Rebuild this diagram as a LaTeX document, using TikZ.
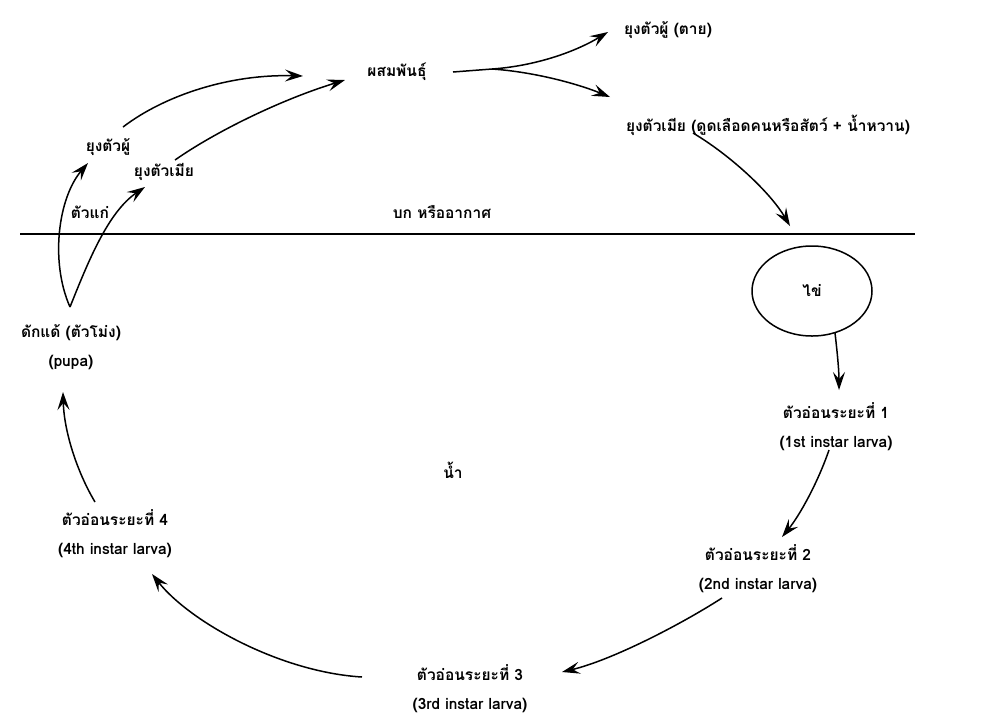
\documentclass[tikz,border=0pt]{standalone}
\usepackage{fontspec}
\newfontfamily\thaifont[Script=Thai]{Loma}
\usetikzlibrary{arrows.meta,shapes.geometric}
\begin{document}
\begin{tikzpicture}[x=1pt,y=-1pt,
  lbl/.style={font=\thaifont\bfseries\fontsize{15.5}{29}\selectfont, align=center, inner sep=0pt},
  arr/.style={-{Stealth[length=18pt,width=12pt,inset=7pt]}, line width=1.5pt},
  ln/.style={line width=1.5pt}]
\useasboundingbox (0,0) rectangle (998,716);
% ground line
\coordinate (gl) at (20,234);
\coordinate (gr) at (915,234);
\draw[ln] (gl) -- (gr);
% labels
\node[lbl] (mate) at (397,72) {ผสมพันธุ์};
\node[lbl] (maledie) at (668,30) {ยุงตัวผู้ (ตาย)};
\node[lbl] (femfeed) at (768,125) {ยุงตัวเมีย (ดูดเลือดคนหรือสัตว์ + น้ำหวาน)};
\node[lbl] (land) at (442,212) {บก หรืออากาศ};
\node[lbl, draw, ellipse, line width=1.5pt, minimum width=120pt, minimum height=90pt] (egg) at (812,291) {ไข่};
\node[lbl] (l1) at (836,427) {ตัวอ่อนระยะที่ 1\\(1st instar larva)};
\node[lbl] (l2) at (758,569) {ตัวอ่อนระยะที่ 2\\(2nd instar larva)};
\node[lbl] (l3) at (470,689) {ตัวอ่อนระยะที่ 3\\(3rd instar larva)};
\node[lbl] (l4) at (115,534) {ตัวอ่อนระยะที่ 4\\(4th instar larva)};
\node[lbl] (pupa) at (71,347) {ดักแด้ (ตัวโม่ง)\\(pupa)};
\node[lbl] (water) at (453,470) {น้ำ};
\node[lbl] (adult) at (90,212) {ตัวแก่};
\node[lbl] (male) at (108,147) {ยุงตัวผู้};
\node[lbl] (female) at (164,172) {ยุงตัวเมีย};
% connector end points
\coordinate (fork) at (492,69);
\coordinate (pupatop) at (70,307);
% adults to mating
\draw[arr] ([shift={(15,-20)}]male.center) .. controls (165,95) and (230,74) .. ([shift={(-94,4)}]mate.center);
\draw[arr] ([shift={(11,-12)}]female.center) .. controls (215,132) and (280,100) .. ([shift={(-52,8)}]mate.center);
% mating fork
\draw[ln] ([xshift=56pt]mate.center) -- (fork);
\draw[arr] (fork) .. controls (535,66) and (575,52) .. ([shift={(-60,2)}]maledie.center);
\draw[arr] (fork) .. controls (535,72) and (578,84) .. ([shift={(-158,-28)}]femfeed.center);
% female to egg
\draw[arr] ([shift={(-75,8)}]femfeed.center) .. controls (730,155) and (770,192) .. ([shift={(-22,-65)}]egg.center);
% egg to L1
\draw[arr] ([shift={(23,42)}]egg.center) .. controls (837,350) and (839,370) .. ([shift={(3,-37)}]l1.center);
% L1 to L2
\draw[arr] ([shift={(-7,23)}]l1.center) .. controls (818,482) and (800,515) .. ([shift={(24,-32)}]l2.center);
% L2 to L3
\draw[arr] ([shift={(-36,29)}]l2.center) .. controls (680,625) and (612,660) .. ([shift={(92,-17)}]l3.center);
% L3 to L4
\draw[arr] ([shift={(-108,-12)}]l3.center) .. controls (280,672) and (190,622) .. ([shift={(37,40)}]l4.center);
% L4 to pupa
\draw[arr] ([shift={(-20,-32)}]l4.center) .. controls (76,470) and (64,430) .. ([shift={(-8,45)}]pupa.center);
% pupa to adults
\draw[arr] (pupatop) .. controls (50,262) and (58,198) .. ([shift={(-20,16)}]male.center);
\draw[arr] (pupatop) .. controls (88,262) and (108,212) .. ([shift={(-19,15)}]female.center);
\end{tikzpicture}
\end{document}
